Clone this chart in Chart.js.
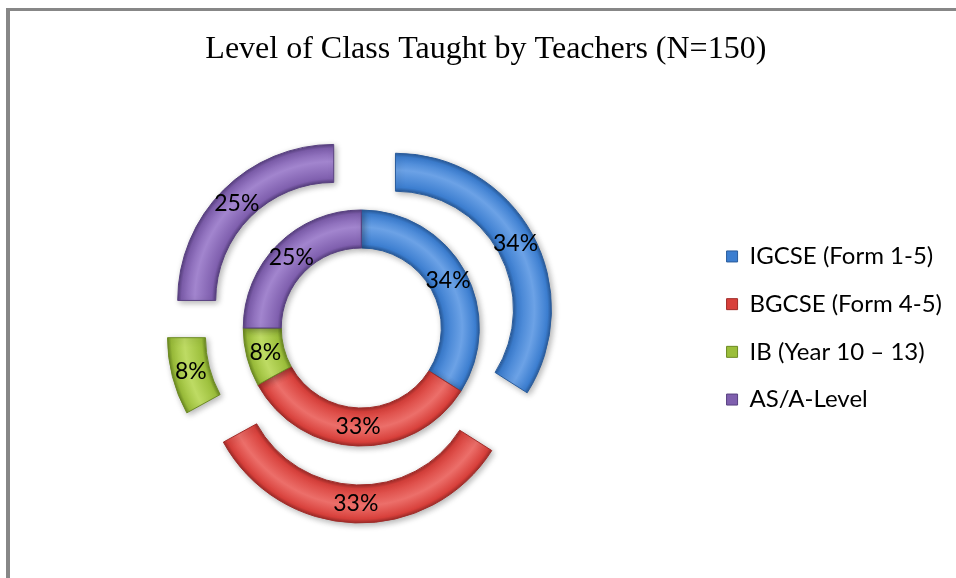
<!DOCTYPE html>
<html><head><meta charset="utf-8">
<script src="https://cdn.jsdelivr.net/npm/chart.js@4.4.0/dist/chart.umd.min.js"></script>
<style>
html,body{margin:0;padding:0;background:#fff;overflow:hidden}
#wrap{position:relative;width:956px;height:578px;overflow:hidden}
#frame{position:absolute;left:6px;top:8px;width:1000px;height:700px;border-top:3px solid #878787;border-left:4px solid #878787}
canvas{position:absolute;left:0;top:0}
</style></head><body>
<div id="wrap"><div id="frame"></div><canvas id="c" width="956" height="578"></canvas></div>
<script>
const titleText = 'Level of Class Taught by Teachers (N=150)';
const categories = ['IGCSE (Form 1-5)', 'BGCSE (Form 4-5)', 'IB (Year 10 \u2013 13)', 'AS/A-Level'];
const outerValues = [34, 33, 8, 25];
const innerValues = [34, 33, 8, 25];
const colors = ['#3C7ED0', '#D8403B', '#9BBE3A', '#7F5FAE'];
const lightColors = ['#6CA2E6', '#EC6F6A', '#BEDB64', '#A285CE'];
const edgeColors = ['#2A5C9C', '#A02C29', '#6C8A22', '#584080'];

const RADIUS = 156, RING = 38, EXPLODE = 39;

function ringFill(ringIndex) {
  return (ctx) => {
    const chart = ctx.chart;
    const area = chart.chartArea;
    const i = ctx.dataIndex;
    if (!area || i === undefined) return colors[i] || colors[0];
    const vals = chart.data.datasets[ctx.datasetIndex].data;
    const total = vals.reduce((a, b) => a + b, 0);
    let start = 0;
    for (let k = 0; k < i; k++) start += vals[k];
    const mid = -Math.PI / 2 + (start + vals[i] / 2) / total * 2 * Math.PI;
    let cx = (area.left + area.right) / 2, cy = (area.top + area.bottom) / 2;
    const shift = ringIndex === 0 ? EXPLODE : 0;
    cx += Math.cos(mid) * shift; cy += Math.sin(mid) * shift;
    const rOut = ringIndex === 0 ? RADIUS : RADIUS - RING;
    const rIn = rOut - RING;
    const g = chart.ctx.createRadialGradient(cx, cy, rIn, cx, cy, rOut);
    g.addColorStop(0, edgeColors[i]);
    g.addColorStop(0.1, colors[i]);
    g.addColorStop(0.55, lightColors[i]);
    g.addColorStop(0.9, colors[i]);
    g.addColorStop(1, edgeColors[i]);
    return g;
  };
}

const ringPlugin = {
  id: 'ringPlugin',
  afterDatasetUpdate(chart, args) {
    if (args.index !== 0) return;
    args.meta.data.forEach(arc => {
      const mid = (arc.startAngle + arc.endAngle) / 2;
      arc.x += Math.cos(mid) * EXPLODE;
      arc.y += Math.sin(mid) * EXPLODE;
    });
  },
  beforeDatasetsDraw(chart) {
    const c = chart.ctx;
    c.save();
    c.shadowColor = 'rgba(0,0,0,0.3)';
    c.shadowBlur = 6;
    c.shadowOffsetX = 2;
    c.shadowOffsetY = 2;
  },
  afterDatasetsDraw(chart) {
    const c = chart.ctx;
    c.restore();
    c.save();
    c.font = '23px Lato';
    c.fillStyle = '#000';
    c.textAlign = 'center';
    c.textBaseline = 'middle';
    chart.data.datasets.forEach((ds, di) => {
      chart.getDatasetMeta(di).data.forEach((arc, i) => {
        const p = arc.tooltipPosition();
        c.fillText(ds.data[i] + '%', p.x, p.y);
      });
    });
    c.restore();
  }
};

new Chart(document.getElementById('c'), {
  type: 'doughnut',
  data: {
    labels: categories,
    datasets: [
      { data: outerValues, backgroundColor: ringFill(0), borderColor: edgeColors, borderWidth: 1 },
      { data: innerValues, backgroundColor: ringFill(1), borderColor: edgeColors, borderWidth: 1 }
    ]
  },
  options: {
    responsive: false,
    animation: false,
    events: [],
    radius: RADIUS,
    cutout: '51.3%',
    layout: { padding: { top: 8, left: 19.7, right: 4, bottom: 0 } },
    plugins: {
      title: {
        display: true,
        text: titleText,
        color: '#000',
        font: { family: "'Liberation Serif', 'Times New Roman', serif", size: 32, weight: 'normal', lineHeight: 1.2 },
        padding: { top: 22.8, bottom: 8.8 }
      },
      legend: {
        position: 'right',
        fullSize: false,
        labels: {
          boxWidth: 11,
          boxHeight: 11,
          padding: 23.7,
          color: '#000',
          font: { family: 'Lato', size: 24 },
          generateLabels: () => categories.map((t, i) => ({
            text: t, fillStyle: colors[i], strokeStyle: edgeColors[i], lineWidth: 1,
            hidden: false, index: i, datasetIndex: 0, fontColor: '#000'
          }))
        }
      },
      tooltip: { enabled: false }
    }
  },
  plugins: [ringPlugin]
});
</script>
</body></html>
